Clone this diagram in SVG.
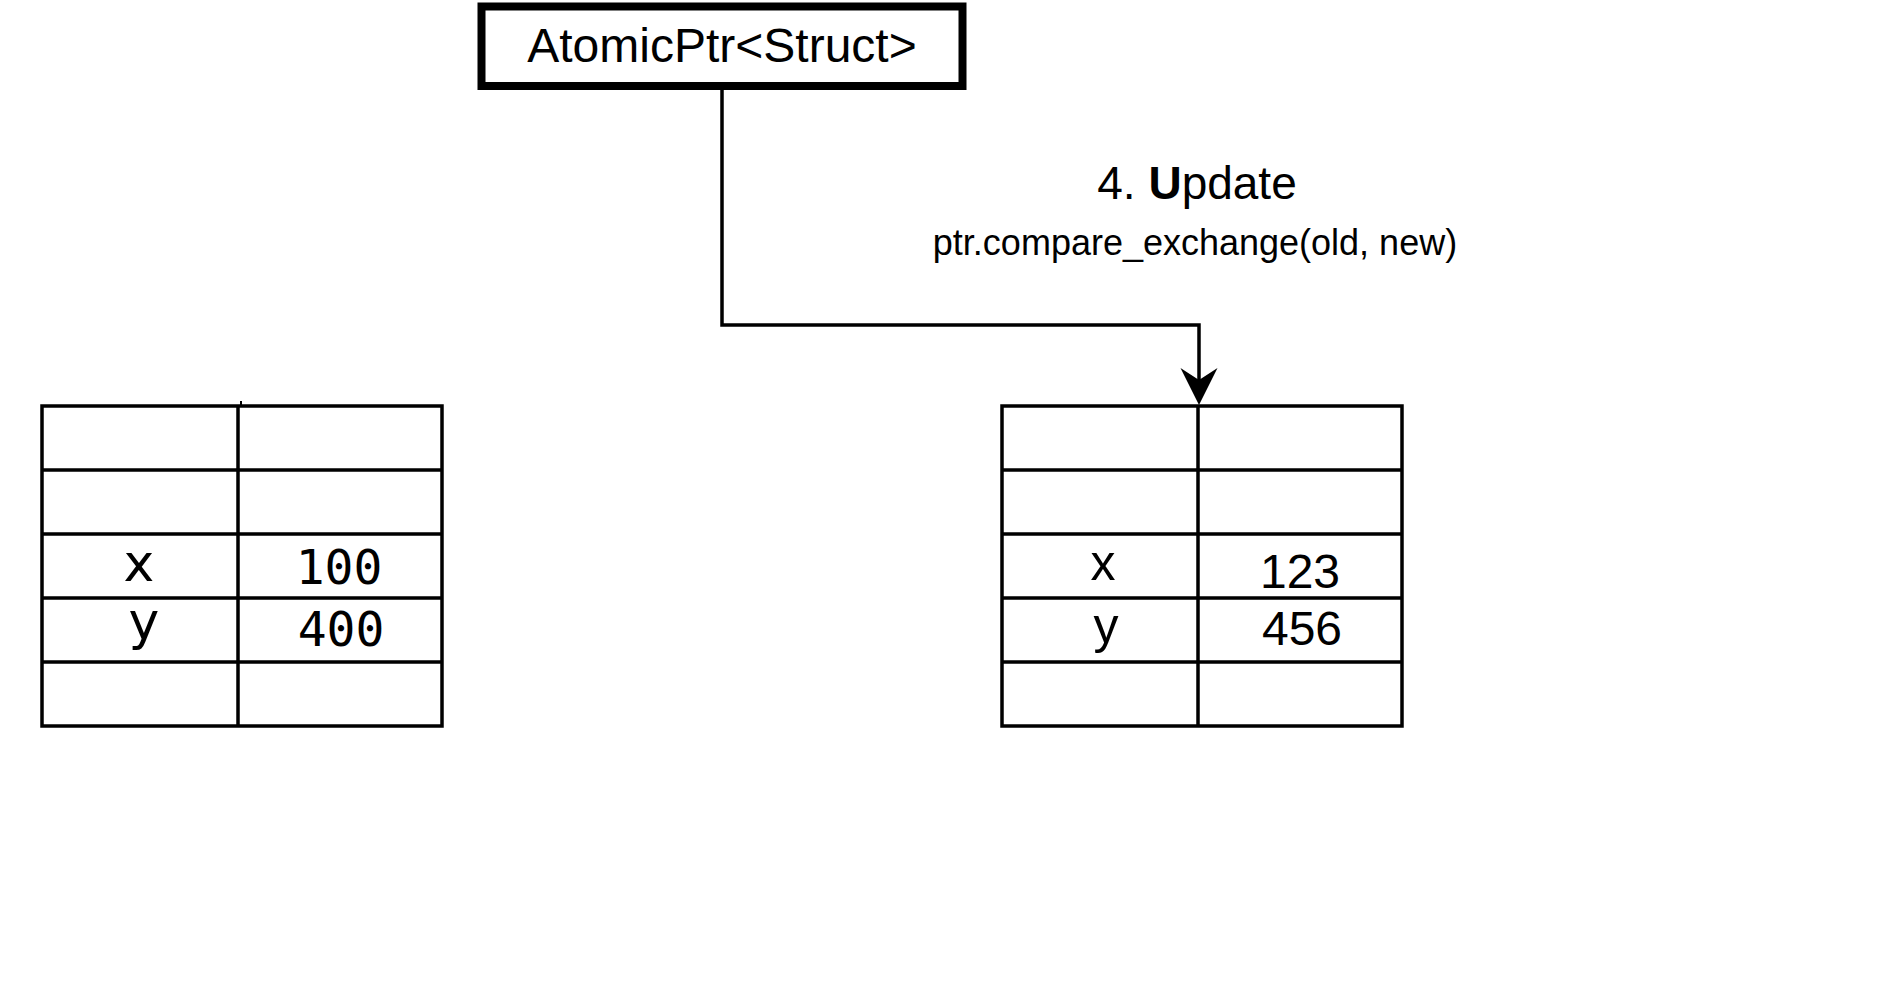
<svg xmlns="http://www.w3.org/2000/svg" width="1884" height="1008" viewBox="0 0 1884 1008">
<style>
.bg{fill:#ffffff}
.cell{fill:#ffffff;stroke:#000000;stroke-width:3.5}
.grid{stroke:#000000;stroke-width:3.5;fill:none}
.edge{fill:none;stroke:#000000;stroke-width:3.5}
.sans{font-family:"Liberation Sans",Arial,Helvetica,sans-serif;fill:#000000}
.dv{font-family:"DejaVu Sans",Verdana,sans-serif;fill:#000000}
.mono{font-family:"DejaVu Sans Mono",monospace;fill:#000000}
</style>
<defs>
<marker id="arrow" markerUnits="userSpaceOnUse" viewBox="0 0 37 37" markerWidth="37" markerHeight="37" refX="12" refY="18.5" orient="auto" overflow="visible">
<path d="M0,0 L37,18.5 L0,37 L12,18.5 Z" fill="#000000" stroke="none"/>
</marker>
</defs>
<rect class="bg" x="0" y="0" width="1884" height="1008"/>

<g id="connectors">
<path class="edge" d="M722,90 L722,325 L1199,325 L1199,380" marker-end="url(#arrow)"/>
<line x1="241" y1="401" x2="241" y2="405" stroke="#000000" stroke-width="2"/>
</g>

<g id="atomicptr">
<rect x="481.5" y="6.5" width="481" height="79.5" fill="#ffffff" stroke="#000000" stroke-width="8"/>
<text class="sans" x="722" y="62" font-size="48" text-anchor="middle">AtomicPtr&lt;Struct&gt;</text>
</g>

<g id="label">
<text class="sans" x="1197" y="199" font-size="46" text-anchor="middle">4. <tspan font-weight="bold">U</tspan>pdate</text>
<text class="sans" x="1195" y="255" font-size="36" text-anchor="middle">ptr.compare_exchange(old, new)</text>
</g>

<g id="old-struct">
<rect class="cell" x="42" y="406" width="400" height="320"/>
<path class="grid" d="M238,406 V726 M42,470 H442 M42,534 H442 M42,598 H442 M42,662 H442"/>
<text class="dv" x="139" y="581" font-size="52" text-anchor="middle">x</text>
<text class="dv" x="144" y="639" font-size="52" text-anchor="middle">y</text>
<text class="mono" x="339" y="584" font-size="48" text-anchor="middle">100</text>
<text class="mono" x="341" y="646" font-size="48" text-anchor="middle">400</text>
</g>

<g id="new-struct">
<rect class="cell" x="1002" y="406" width="400" height="320"/>
<path class="grid" d="M1198,406 V726 M1002,470 H1402 M1002,534 H1402 M1002,598 H1402 M1002,662 H1402"/>
<text class="sans" x="1103" y="580" font-size="50" text-anchor="middle">x</text>
<text class="sans" x="1106" y="643" font-size="50" text-anchor="middle">y</text>
<text class="sans" x="1300" y="588" font-size="48" text-anchor="middle">123</text>
<text class="sans" x="1302" y="645" font-size="48" text-anchor="middle">456</text>
</g>
</svg>
